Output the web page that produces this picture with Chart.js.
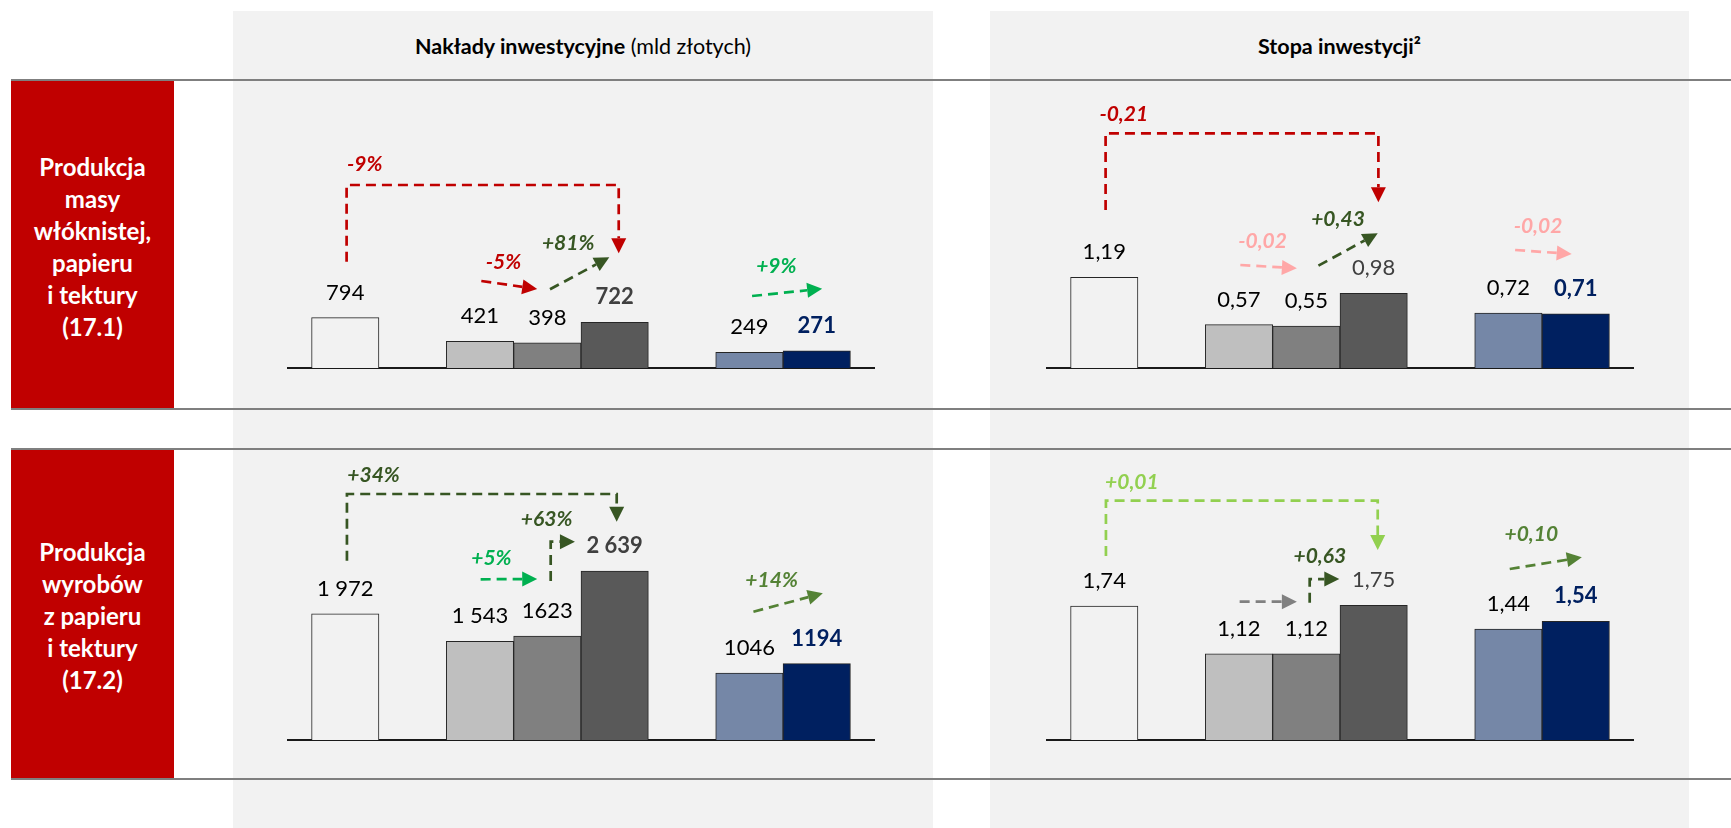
<!DOCTYPE html>
<html lang="pl">
<head>
<meta charset="utf-8">
<script src="https://cdn.jsdelivr.net/npm/chart.js@4.4.1/dist/chart.umd.min.js"></script>
<style>
  html, body { margin: 0; padding: 0; background: #ffffff; }
  body { width: 1731px; height: 828px; position: relative; overflow: hidden; font-family: Lato, "Open Sans", sans-serif; }
  .panel { position: absolute; top: 11px; height: 817px; background: #F2F2F2; }
  .side { position: absolute; left: 11px; width: 163px; background: #C00000; color: #ffffff;
          font-weight: 700; font-size: 24px; line-height: 32px; display: flex; align-items: center;
          justify-content: center; text-align: center; padding-top: 4px; box-sizing: border-box; }
  .rule { position: absolute; left: 11px; right: 0; height: 2px; background: #7F7F7F; }
  .title { position: absolute; top: 46px; transform: translate(-50%, -50%); white-space: nowrap;
           font-size: 21.5px; color: #000000; }
  canvas { position: absolute; }
</style>
</head>
<body>
<div class="panel" style="left:233px;width:700px"></div>
<div class="panel" style="left:990px;width:699px"></div>
<div class="title" style="left:583px"><b>Nakłady inwestycyjne</b> (mld złotych)</div>
<div class="title" style="left:1339.5px"><b>Stopa inwestycji²</b></div>
<div class="side" style="top:80px;height:329px">Produkcja<br>masy<br>włóknistej,<br>papieru<br>i tektury<br>(17.1)</div>
<div class="side" style="top:449px;height:330px">Produkcja<br>wyrobów<br>z papieru<br>i tektury<br>(17.2)</div>
<div class="rule" style="top:79px"></div>
<div class="rule" style="top:408px"></div>
<div class="rule" style="top:448px"></div>
<div class="rule" style="top:778px"></div>
<canvas id="nakladyMasyChart" width="700" height="329" style="left:233px;top:80px"></canvas>
<canvas id="stopaMasyChart" width="699" height="329" style="left:990px;top:80px"></canvas>
<canvas id="nakladyWyrobowChart" width="700" height="330" style="left:233px;top:449px"></canvas>
<canvas id="stopaWyrobowChart" width="699" height="330" style="left:990px;top:449px"></canvas>

<script>
// ---- Dane ----
// Sześć słupków w trzech grupach: 1 słupek, 3 słupki, 2 słupki
const categories = ['S1', 'S2', 'S3', 'S4', 'S5', 'S6'];
const groupSizes = [1, 3, 2];

// 17.1 – produkcja masy włóknistej, papieru i tektury
const nakladyMasy = [794, 421, 398, 722, 249, 271];
const nakladyMasyLabels = ['794', '421', '398', '722', '249', '271'];
const nakladyMasyZmiany = ['-9%', '-5%', '+81%', '+9%'];

const stopaMasy = [1.19, 0.57, 0.55, 0.98, 0.72, 0.71];
const stopaMasyLabels = ['1,19', '0,57', '0,55', '0,98', '0,72', '0,71'];
const stopaMasyZmiany = ['-0,21', '-0,02', '+0,43', '-0,02'];

// 17.2 – produkcja wyrobów z papieru i tektury
const nakladyWyrobow = [1972, 1543, 1623, 2639, 1046, 1194];
const nakladyWyrobowLabels = ['1 972', '1 543', '1623', '2 639', '1046', '1194'];
const nakladyWyrobowZmiany = ['+34%', '+5%', '+63%', '+14%'];

const stopaWyrobow = [1.74, 1.12, 1.12, 1.75, 1.44, 1.54];
const stopaWyrobowLabels = ['1,74', '1,12', '1,12', '1,75', '1,44', '1,54'];
const stopaWyrobowZmiany = ['+0,01', '', '+0,63', '+0,10'];

// ---- Wygląd ----
const BAR_FILLS = ['#F2F2F2', '#BFBFBF', '#808080', '#595959', '#7587A7', '#002060'];
const BAR_EDGE = '#262626';
const RED = '#C00000', DKGREEN = '#375623', GREEN = '#00B050', PINK = '#FFA7A7',
      LTGREEN = '#92D050', OLIVE = '#548235', GREY = '#808080';

const plain = { weight: '400', color: '#000000' };
const navy = { weight: '700', color: '#002060' };
const stylesNaklady = [plain, plain, plain, { weight: '700', color: '#404040' }, plain, navy];
const stylesStopa = [plain, plain, plain, { weight: '400', color: '#404040' }, plain, navy];

// Strzałki zmian: ścieżki w jednostkach osi (x – pozycja słupka, y – wartość osi)
const arrowsNakladyMasy = [
  { color: RED, path: [[0.02, 1678], [0.02, 2888], [4.06, 2888], [4.06, 1810]], at: [0.29, 3230] },
  { color: RED, path: [[2.02, 1373], [2.85, 1247]], at: [2.35, 1678] },
  { color: DKGREEN, path: [[3.04, 1242], [3.92, 1747]], at: [3.31, 1977] },
  { color: GREEN, path: [[6.04, 1136], [7.08, 1251]], at: [6.40, 1625] }
];
const arrowsStopaMasy = [
  { color: RED, path: [[0.02, 2.074], [0.02, 3.080], [4.07, 3.080], [4.07, 2.175]], at: [0.29, 3.343] },
  { color: PINK, path: [[2.02, 1.352], [2.86, 1.309]], at: [2.35, 1.671] },
  { color: DKGREEN, path: [[3.18, 1.343], [4.06, 1.768]], at: [3.47, 1.965] },
  { color: PINK, path: [[6.10, 1.549], [6.94, 1.496]], at: [6.44, 1.864] }
];
const arrowsNakladyWyrobow = [
  { color: DKGREEN, path: [[0.025, 2800], [0.025, 3842], [4.03, 3842], [4.03, 3410]], at: [0.42, 4139] },
  { color: GREEN, path: [[2.01, 2510], [2.85, 2515]], at: [2.17, 2858] },
  { color: DKGREEN, path: [[3.05, 2483], [3.05, 3097], [3.41, 3097]], at: [2.99, 3463] },
  { color: OLIVE, path: [[6.06, 2004], [7.09, 2291]], at: [6.33, 2499] }
];
const arrowsStopaWyrobow = [
  { color: LTGREEN, path: [[0.025, 2.390], [0.025, 3.109], [4.06, 3.109], [4.06, 2.468]], at: [0.41, 3.355] },
  { color: GREY, path: [[2.01, 1.797], [2.86, 1.797]], at: [2.4, 2.0] },
  { color: DKGREEN, path: [[3.05, 1.784], [3.05, 2.091], [3.49, 2.091]], at: [3.2, 2.403] },
  { color: OLIVE, path: [[6.02, 2.221], [7.09, 2.373]], at: [6.34, 2.676] }
];

// Pozycje słupków na osi x: kolejne słupki grupy obok siebie, jedna pusta pozycja między grupami
function slotPositions(sizes) {
  const xs = [];
  let pos = 0;
  sizes.forEach(n => {
    for (let i = 0; i < n; i++) xs.push(pos++);
    pos++;
  });
  return xs;
}

// Wartości nad słupkami
const valueLabelsPlugin = {
  id: 'valueLabels',
  afterDatasetsDraw(chart, args, opts) {
    const { ctx } = chart;
    const meta = chart.getDatasetMeta(0);
    ctx.save();
    ctx.textAlign = 'center';
    ctx.textBaseline = 'alphabetic';
    meta.data.forEach((bar, i) => {
      const st = opts.styles[i];
      ctx.font = `${st.weight} 22px Lato`;
      ctx.fillStyle = st.color;
      ctx.fillText(opts.labels[i], bar.x, bar.y - 18);
    });
    ctx.restore();
  }
};

// Przerywane strzałki ze zmianami
const changeArrowsPlugin = {
  id: 'changeArrows',
  afterDatasetsDraw(chart, args, opts) {
    const { ctx } = chart;
    const xs = chart.scales.x, ys = chart.scales.y;
    const HEAD = 15, HALF = 7.5;
    opts.items.forEach((a, k) => {
      const pts = a.path.map(([u, v]) => [xs.getPixelForValue(u), ys.getPixelForValue(v)]);
      const n = pts.length;
      const [tx, ty] = pts[n - 1];
      const [px, py] = pts[n - 2];
      const len = Math.hypot(tx - px, ty - py);
      const dx = (tx - px) / len, dy = (ty - py) / len;
      const bx = tx - dx * HEAD, by = ty - dy * HEAD;
      ctx.save();
      ctx.strokeStyle = a.color;
      ctx.lineWidth = 2.7;
      ctx.setLineDash([10, 6]);
      ctx.beginPath();
      ctx.moveTo(pts[0][0], pts[0][1]);
      for (let i = 1; i < n - 1; i++) ctx.lineTo(pts[i][0], pts[i][1]);
      ctx.lineTo(bx, by);
      ctx.stroke();
      ctx.setLineDash([]);
      ctx.fillStyle = a.color;
      ctx.beginPath();
      ctx.moveTo(tx, ty);
      ctx.lineTo(bx - dy * HALF, by + dx * HALF);
      ctx.lineTo(bx + dy * HALF, by - dx * HALF);
      ctx.closePath();
      ctx.fill();
      const text = opts.texts[k];
      if (text) {
        ctx.font = 'italic 700 21px Lato';
        ctx.textAlign = 'center';
        ctx.textBaseline = 'alphabetic';
        ctx.fillText(text, xs.getPixelForValue(a.at[0]), ys.getPixelForValue(a.at[1]) + 7.5);
      }
      ctx.restore();
    });
  }
};

function makeChart(id, values, labels, styles, arrows, texts, yMax, padding) {
  const xs = slotPositions(groupSizes);
  return new Chart(document.getElementById(id), {
    type: 'bar',
    data: {
      labels: categories,
      datasets: [{
        data: values.map((v, i) => ({ x: xs[i], y: v })),
        backgroundColor: BAR_FILLS,
        borderColor: BAR_EDGE,
        borderWidth: 1,
        categoryPercentage: 1,
        barPercentage: 1
      }]
    },
    options: {
      responsive: false,
      animation: false,
      events: [],
      layout: { padding },
      plugins: {
        legend: { display: false },
        tooltip: { enabled: false },
        valueLabels: { labels, styles },
        changeArrows: { items: arrows, texts }
      },
      scales: {
        x: {
          type: 'linear',
          min: xs[0] - 0.85,
          max: xs[xs.length - 1] + 0.85,
          offset: false,
          grid: { display: false, drawTicks: false },
          ticks: { display: false },
          border: { display: true, color: '#1a1a1a', width: 2 },
          afterBuildTicks: axis => { axis.ticks = xs.map(v => ({ value: v })); }
        },
        y: { display: false, min: 0, max: yMax }
      }
    },
    plugins: [valueLabelsPlugin, changeArrowsPlugin]
  });
}

makeChart('nakladyMasyChart', nakladyMasy, nakladyMasyLabels, stylesNaklady,
  arrowsNakladyMasy, nakladyMasyZmiany, 4545, { left: 55, right: 59, top: 0, bottom: 41 });
makeChart('stopaMasyChart', stopaMasy, stopaMasyLabels, stylesStopa,
  arrowsStopaMasy, stopaMasyZmiany, 3.78, { left: 57, right: 56, top: 0, bottom: 41 });
makeChart('nakladyWyrobowChart', nakladyWyrobow, nakladyWyrobowLabels, stylesNaklady,
  arrowsNakladyWyrobow, nakladyWyrobowZmiany, 4545, { left: 55, right: 59, top: 0, bottom: 39 });
makeChart('stopaWyrobowChart', stopaWyrobow, stopaWyrobowLabels, stylesStopa,
  arrowsStopaWyrobow, stopaWyrobowZmiany, 3.78, { left: 57, right: 56, top: 0, bottom: 39 });
</script>
</body>
</html>
